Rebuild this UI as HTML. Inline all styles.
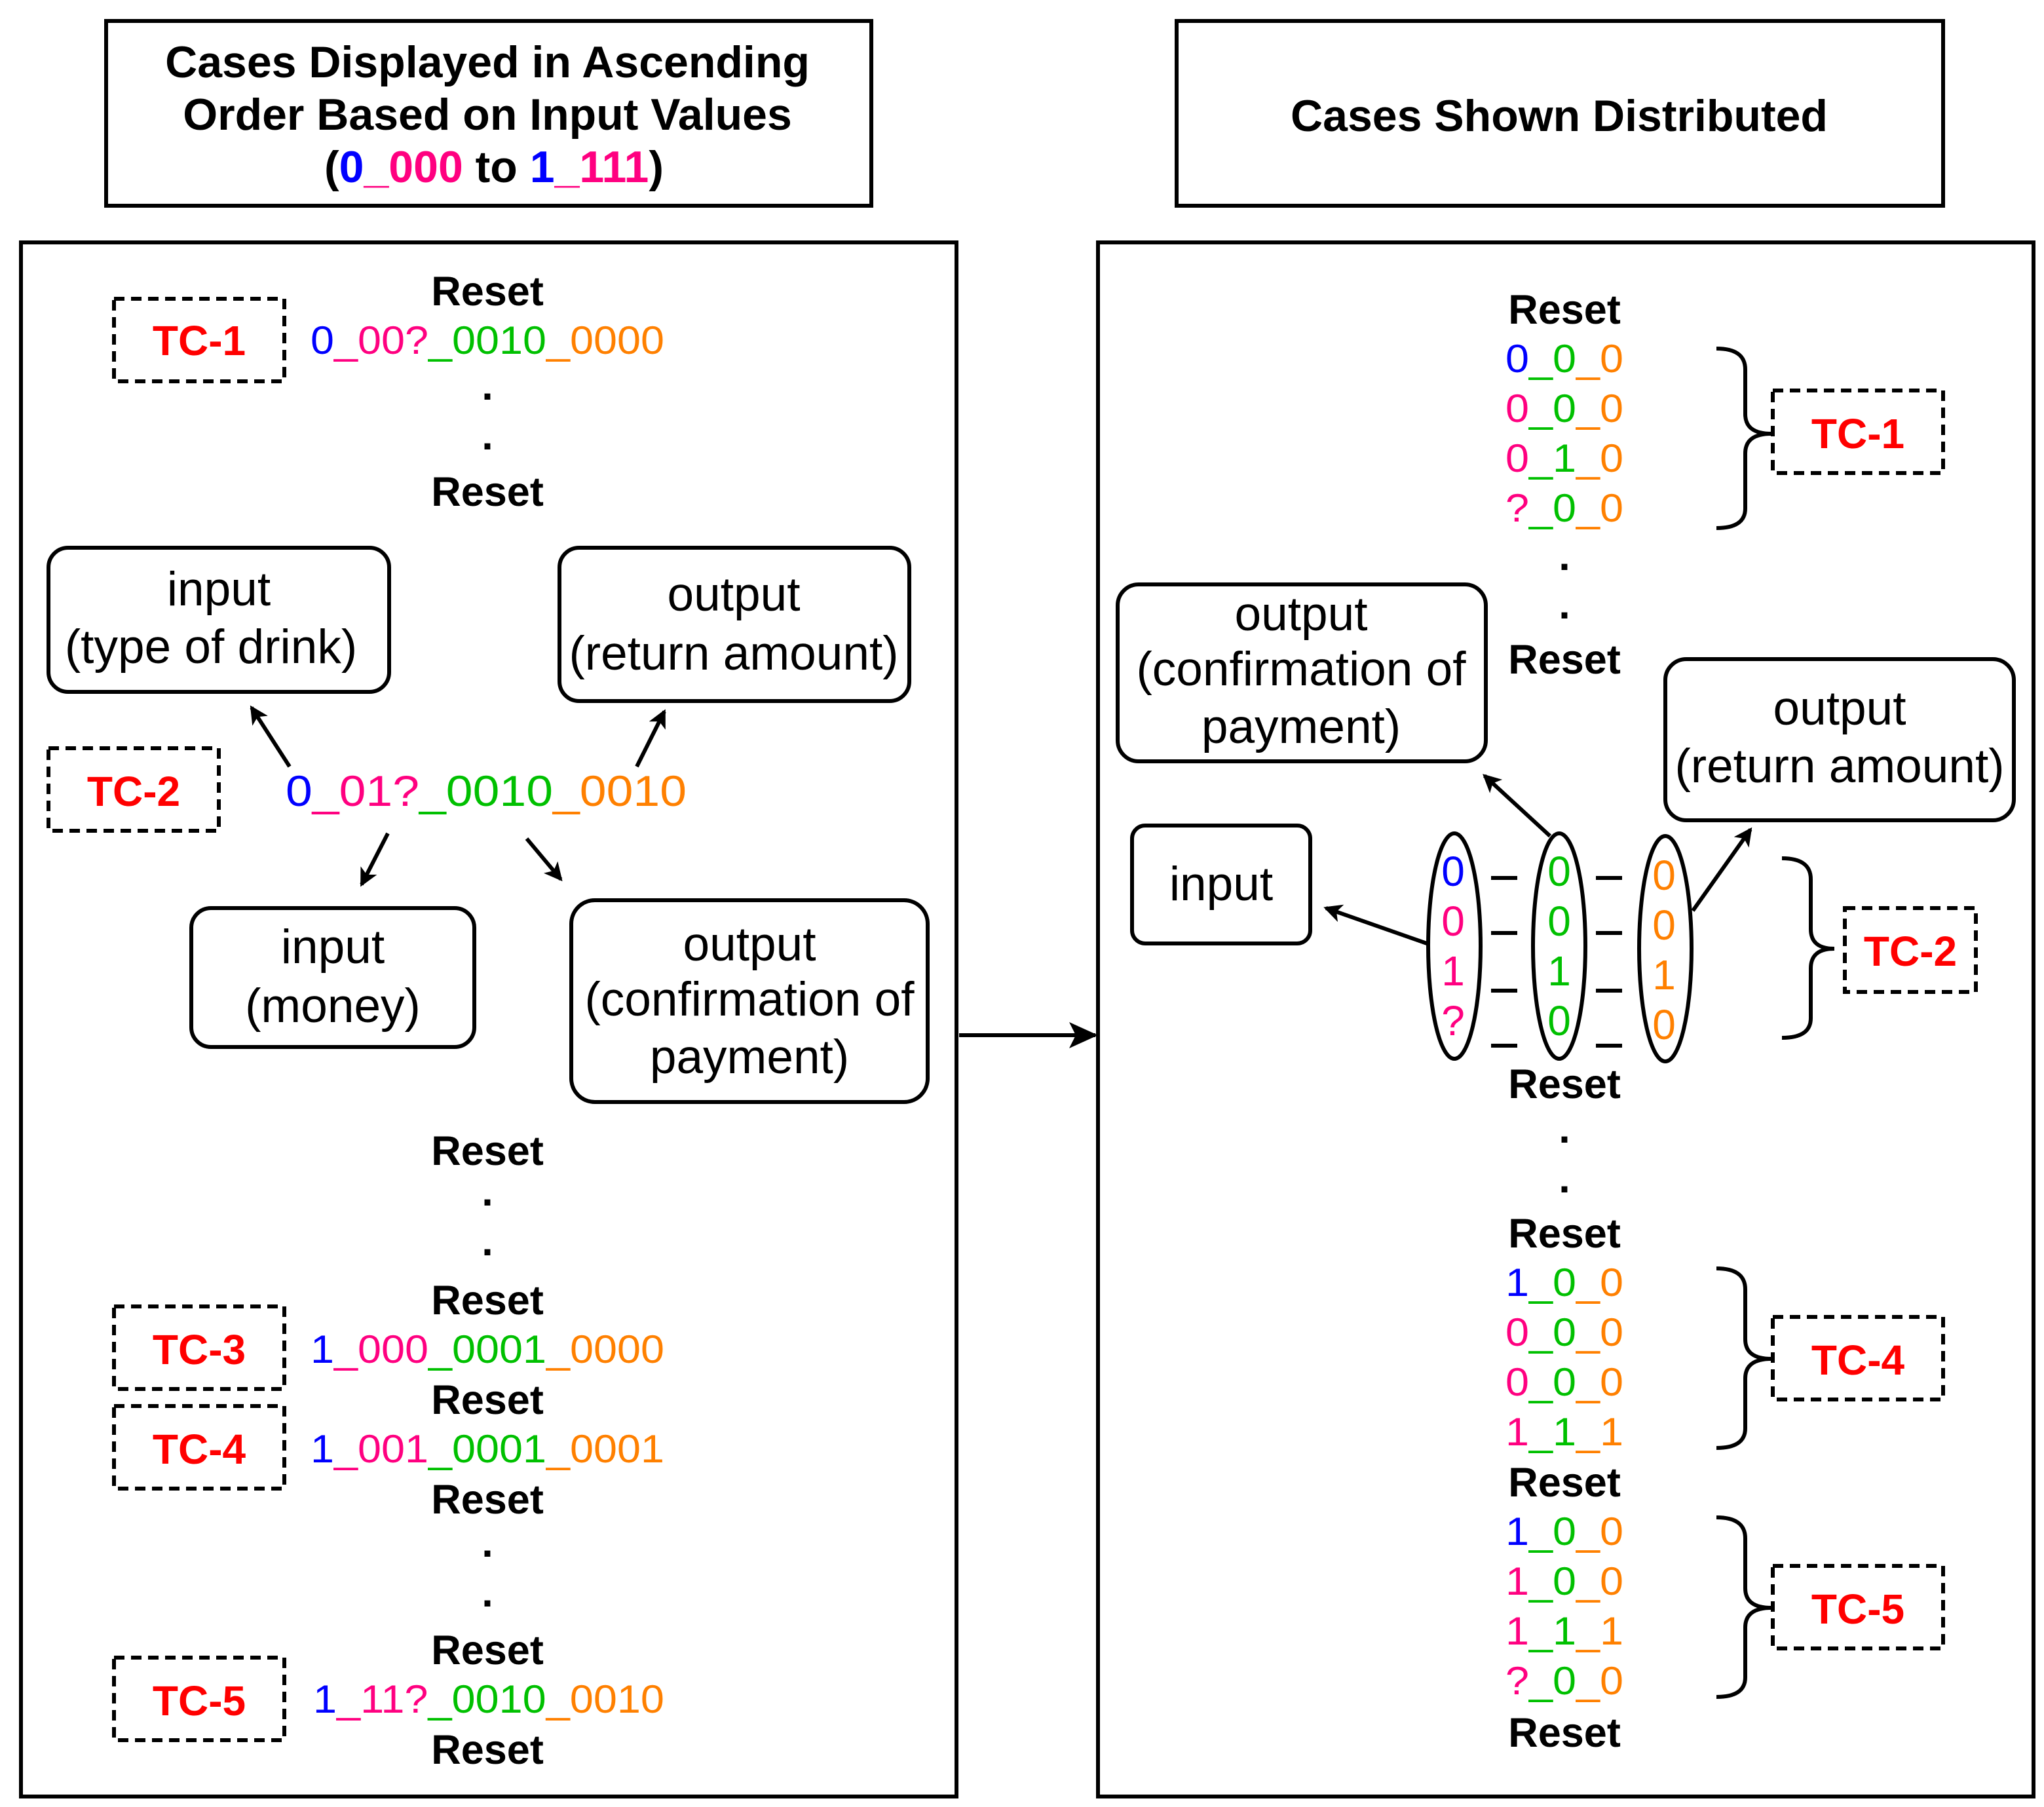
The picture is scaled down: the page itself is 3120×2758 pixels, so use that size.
<!DOCTYPE html>
<html><head><meta charset="utf-8"><style>
html,body{margin:0;padding:0;background:#fff}
svg{display:block}
text{font-family:"Liberation Sans",sans-serif}
.b{font-weight:bold}
.r{font-weight:bold;font-size:31.5px;text-anchor:middle}
.tc{font-weight:bold;font-size:32px;fill:#ff0000;text-anchor:middle}
.lb{font-size:36.5px;text-anchor:middle}
.sq{font-size:30px}
.B{fill:#0000ff}.P{fill:#ff0080}.G{fill:#00c000}.O{fill:#ff8000}
.box{fill:none;stroke:#000;stroke-width:3}
.dash{fill:none;stroke:#000;stroke-width:3;stroke-dasharray:8,5}
.ln{stroke:#000;stroke-width:3;fill:none}
</style></head><body>
<svg width="3120" height="2758" viewBox="0 0 1560 1379" xmlns="http://www.w3.org/2000/svg">
<defs><marker id="ah" markerWidth="14" markerHeight="14" refX="12" refY="7" orient="auto" markerUnits="userSpaceOnUse" viewBox="0 0 14 14"><path d="M0,0 L14,7 L0,14 L3.5,7 z" fill="#000"/></marker>
<marker id="ah2" markerWidth="22" markerHeight="22" refX="20" refY="11" orient="auto" markerUnits="userSpaceOnUse" viewBox="0 0 22 22"><path d="M0,1 L22,11 L0,21 L5,11 z" fill="#000"/></marker></defs>
<rect width="1560" height="1379" fill="#fff"/>
<rect class="box" x="81" y="16" width="584" height="141"/>
<text class="b" font-size="34" text-anchor="middle" x="372" y="59">Cases Displayed in Ascending</text>
<text class="b" font-size="34" text-anchor="middle" x="372" y="99">Order Based on Input Values</text>
<text class="b" font-size="34" text-anchor="middle" x="377" y="139">(<tspan class="B">0</tspan><tspan class="P">_000</tspan> to <tspan class="B">1</tspan><tspan class="P">_111</tspan>)</text>
<rect class="box" x="898" y="16" width="585" height="141"/>
<text class="b" font-size="34" text-anchor="middle" x="1190" y="100">Cases Shown Distributed</text>
<rect class="box" x="16" y="185" width="714" height="1186"/>
<rect class="box" x="838" y="185" width="714" height="1186"/>
<line class="ln" x1="732" y1="790" x2="836" y2="790" stroke-width="4" marker-end="url(#ah2)"/>
<text class="r" x="372" y="233">Reset</text>
<rect class="dash" x="87" y="228" width="130" height="63"/><text class="tc" x="152" y="271">TC-1</text>
<text class="sq" x="237" y="270" textLength="270" lengthAdjust="spacingAndGlyphs"><tspan class="B">0</tspan><tspan class="P">_00?</tspan><tspan class="G">_0010</tspan><tspan class="O">_0000</tspan></text>
<text class="r" x="372" y="305">.</text><text class="r" x="372" y="343">.</text>
<text class="r" x="372" y="386">Reset</text>
<rect class="box" x="37" y="418" width="260" height="110" rx="15"/>
<text class="lb" x="167" y="462">input</text><text class="lb" x="161" y="506">(type of drink)</text>
<rect class="box" x="427" y="418" width="267" height="117" rx="15"/>
<text class="lb" x="560" y="466">output</text><text class="lb" x="560" y="511">(return amount)</text>
<rect class="dash" x="37" y="571" width="130" height="63"/><text class="tc" x="102" y="615">TC-2</text>
<text x="218" y="615" font-size="33" textLength="306" lengthAdjust="spacingAndGlyphs"><tspan class="B">0</tspan><tspan class="P">_01?</tspan><tspan class="G">_0010</tspan><tspan class="O">_0010</tspan></text>
<line class="ln" x1="221" y1="585" x2="192" y2="540" marker-end="url(#ah)"/>
<line class="ln" x1="486" y1="585" x2="507" y2="543" marker-end="url(#ah)"/>
<line class="ln" x1="296" y1="636" x2="276" y2="675" marker-end="url(#ah)"/>
<line class="ln" x1="402" y1="640" x2="428" y2="671" marker-end="url(#ah)"/>
<rect class="box" x="146" y="693" width="216" height="106" rx="15"/>
<text class="lb" x="254" y="735">input</text><text class="lb" x="254" y="780">(money)</text>
<rect class="box" x="436" y="687" width="272" height="154" rx="18"/>
<text class="lb" x="572" y="733">output</text><text class="lb" x="572" y="775">(confirmation of</text><text class="lb" x="572" y="819">payment)</text>
<text class="r" x="372" y="889">Reset</text>
<text class="r" x="372" y="920">.</text><text class="r" x="372" y="958">.</text>
<text class="r" x="372" y="1003">Reset</text>
<rect class="dash" x="87" y="997" width="130" height="63"/><text class="tc" x="152" y="1041">TC-3</text>
<text class="sq" x="237" y="1040" textLength="270" lengthAdjust="spacingAndGlyphs"><tspan class="B">1</tspan><tspan class="P">_000</tspan><tspan class="G">_0001</tspan><tspan class="O">_0000</tspan></text>
<text class="r" x="372" y="1079">Reset</text>
<rect class="dash" x="87" y="1073" width="130" height="63"/><text class="tc" x="152" y="1117">TC-4</text>
<text class="sq" x="237" y="1116" textLength="270" lengthAdjust="spacingAndGlyphs"><tspan class="B">1</tspan><tspan class="P">_001</tspan><tspan class="G">_0001</tspan><tspan class="O">_0001</tspan></text>
<text class="r" x="372" y="1155">Reset</text>
<text class="r" x="372" y="1188">.</text><text class="r" x="372" y="1226">.</text>
<text class="r" x="372" y="1270">Reset</text>
<rect class="dash" x="87" y="1265" width="130" height="63"/><text class="tc" x="152" y="1309">TC-5</text>
<text class="sq" x="239" y="1307" textLength="268" lengthAdjust="spacingAndGlyphs"><tspan class="B">1</tspan><tspan class="P">_11?</tspan><tspan class="G">_0010</tspan><tspan class="O">_0010</tspan></text>
<text class="r" x="372" y="1346">Reset</text>
<text class="r" x="1194" y="247">Reset</text>
<g class="sq">
<text x="1149" y="284" textLength="90" lengthAdjust="spacingAndGlyphs"><tspan class="B">0</tspan><tspan class="G">_0</tspan><tspan class="O">_0</tspan></text>
<text x="1149" y="322" textLength="90" lengthAdjust="spacingAndGlyphs"><tspan class="P">0</tspan><tspan class="G">_0</tspan><tspan class="O">_0</tspan></text>
<text x="1149" y="360" textLength="90" lengthAdjust="spacingAndGlyphs"><tspan class="P">0</tspan><tspan class="G">_1</tspan><tspan class="O">_0</tspan></text>
<text x="1149" y="398" textLength="90" lengthAdjust="spacingAndGlyphs"><tspan class="P">?</tspan><tspan class="G">_0</tspan><tspan class="O">_0</tspan></text>
<text x="1149" y="989" textLength="90" lengthAdjust="spacingAndGlyphs"><tspan class="B">1</tspan><tspan class="G">_0</tspan><tspan class="O">_0</tspan></text>
<text x="1149" y="1027" textLength="90" lengthAdjust="spacingAndGlyphs"><tspan class="P">0</tspan><tspan class="G">_0</tspan><tspan class="O">_0</tspan></text>
<text x="1149" y="1065" textLength="90" lengthAdjust="spacingAndGlyphs"><tspan class="P">0</tspan><tspan class="G">_0</tspan><tspan class="O">_0</tspan></text>
<text x="1149" y="1103" textLength="90" lengthAdjust="spacingAndGlyphs"><tspan class="P">1</tspan><tspan class="G">_1</tspan><tspan class="O">_1</tspan></text>
<text x="1149" y="1179" textLength="90" lengthAdjust="spacingAndGlyphs"><tspan class="B">1</tspan><tspan class="G">_0</tspan><tspan class="O">_0</tspan></text>
<text x="1149" y="1217" textLength="90" lengthAdjust="spacingAndGlyphs"><tspan class="P">1</tspan><tspan class="G">_0</tspan><tspan class="O">_0</tspan></text>
<text x="1149" y="1255" textLength="90" lengthAdjust="spacingAndGlyphs"><tspan class="P">1</tspan><tspan class="G">_1</tspan><tspan class="O">_1</tspan></text>
<text x="1149" y="1293" textLength="90" lengthAdjust="spacingAndGlyphs"><tspan class="P">?</tspan><tspan class="G">_0</tspan><tspan class="O">_0</tspan></text>
</g>
<path class="ln" d="M1310,266 Q1332,266 1332,282 L1332,316 Q1332,331 1352,331 Q1332,331 1332,346 L1332,388 Q1332,403 1310,403"/>
<rect class="dash" x="1353" y="298" width="130" height="63"/><text class="tc" x="1418" y="342">TC-1</text>
<text class="r" x="1194" y="435">.</text><text class="r" x="1194" y="472">.</text>
<text class="r" x="1194" y="514">Reset</text>
<rect class="box" x="853" y="446" width="281" height="135" rx="16"/>
<text class="lb" x="993" y="481">output</text><text class="lb" x="993" y="523">(confirmation of</text><text class="lb" x="993" y="567">payment)</text>
<rect class="box" x="1271" y="503" width="266" height="123" rx="16"/>
<text class="lb" x="1404" y="553">output</text><text class="lb" x="1404" y="597">(return amount)</text>
<rect class="box" x="864" y="630" width="136" height="90" rx="10"/>
<text class="lb" x="932" y="687">input</text>
<ellipse class="ln" cx="1110" cy="722" rx="20" ry="86"/>
<ellipse class="ln" cx="1190" cy="722" rx="20" ry="86"/>
<ellipse class="ln" cx="1271" cy="724" rx="20" ry="86"/>
<g font-size="32" text-anchor="middle">
<text class="B" x="1109" y="676">0</text><text class="P" x="1109" y="714">0</text><text class="P" x="1109" y="752">1</text><text class="P" x="1109" y="790">?</text>
<text class="G" x="1190" y="676">0</text><text class="G" x="1190" y="714">0</text><text class="G" x="1190" y="752">1</text><text class="G" x="1190" y="790">0</text>
<text class="O" x="1270" y="679">0</text><text class="O" x="1270" y="717">0</text><text class="O" x="1270" y="755">1</text><text class="O" x="1270" y="793">0</text>
</g>
<g class="ln">
<line x1="1138" y1="670" x2="1158" y2="670"/><line x1="1138" y1="712" x2="1158" y2="712"/><line x1="1138" y1="756" x2="1158" y2="756"/><line x1="1138" y1="798" x2="1158" y2="798"/>
<line x1="1218" y1="670" x2="1238" y2="670"/><line x1="1218" y1="712" x2="1238" y2="712"/><line x1="1218" y1="756" x2="1238" y2="756"/><line x1="1218" y1="798" x2="1238" y2="798"/>
</g>
<line class="ln" x1="1089" y1="720" x2="1012" y2="693" marker-end="url(#ah)"/>
<line class="ln" x1="1183" y1="638" x2="1133" y2="592" marker-end="url(#ah)"/>
<line class="ln" x1="1292" y1="695" x2="1336" y2="633" marker-end="url(#ah)"/>
<text class="r" x="1194" y="838">Reset</text>
<path class="ln" d="M1360,655 Q1382,655 1382,671 L1382,709 Q1382,724 1400,724 Q1382,724 1382,739 L1382,777 Q1382,792 1360,792"/>
<rect class="dash" x="1408" y="693" width="100" height="64"/><text class="tc" x="1458" y="737">TC-2</text>
<text class="r" x="1194" y="872">.</text><text class="r" x="1194" y="910">.</text>
<text class="r" x="1194" y="952">Reset</text>
<path class="ln" d="M1310,968 Q1332,968 1332,984 L1332,1022 Q1332,1037 1352,1037 Q1332,1037 1332,1052 L1332,1090 Q1332,1105 1310,1105"/>
<rect class="dash" x="1353" y="1005" width="130" height="63"/><text class="tc" x="1418" y="1049">TC-4</text>
<text class="r" x="1194" y="1142">Reset</text>
<path class="ln" d="M1310,1158 Q1332,1158 1332,1174 L1332,1212 Q1332,1227 1352,1227 Q1332,1227 1332,1242 L1332,1280 Q1332,1295 1310,1295"/>
<rect class="dash" x="1353" y="1195" width="130" height="63"/><text class="tc" x="1418" y="1239">TC-5</text>
<text class="r" x="1194" y="1333">Reset</text>
</svg>
</body></html>
